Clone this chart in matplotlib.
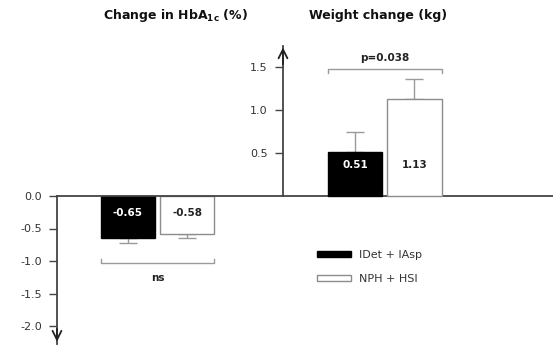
import numpy as np
import matplotlib.pyplot as plt
from matplotlib.patches import Patch

plt.rcParams['font.family'] = ['DejaVu Sans']
plt.rcParams['axes.unicode_minus'] = False
plt.rcParams['mathtext.fontset'] = 'dejavusans'

# data
treatments = ['IDet + IAsp', 'NPH + HSI']
hba1c = [-0.65, -0.58]
hba1c_err = [0.07, 0.06]
weight = [0.51, 1.13]
weight_err = [0.23, 0.23]
hba1c_ticks = [0.0, -0.5, -1.0, -1.5, -2.0]
weight_ticks = [0.5, 1.0, 1.5]
p_labels = ['ns', 'p=0.038']

bar_colors = ['black', 'white']
edge_colors = ['black', '#8c8c8c']
axis_col = '#444444'
err_col = '#9a9a9a'

fig = plt.figure(figsize=(5.53, 3.45), dpi=100)
ax1 = fig.add_axes([0, 0, 1, 1])
ax2 = ax1.twinx()
ax2.set_position([0, 0, 1, 1])

# 1 x-unit = distance between group centres
xlim = (-0.6923, 1.7385)
width = 0.2374
offs = np.array([-0.1297, 0.1297])
g0, g1 = 0.0, 1.0
xl1 = -0.4418   # left axis position
xl2 = 0.5516    # right axis position

ax1.set_xlim(xlim)
ax1.set_ylim(-149 / 65, 196 / 65)
ax2.set_ylim(-149 / 86, 196 / 86)

# bars
x0 = g0 + offs
x1 = g1 + offs
ax1.bar(x0, hba1c, width, color=bar_colors, edgecolor=edge_colors, linewidth=1, zorder=3)
ax1.errorbar(x0, hba1c, yerr=[hba1c_err, [0, 0]], fmt='none', ecolor=err_col,
             elinewidth=1, capsize=6.5, capthick=1, zorder=2)
ax2.bar(x1, weight, width, color=bar_colors, edgecolor=edge_colors, linewidth=1, zorder=3)
ax2.errorbar(x1, weight, yerr=[[0, 0], weight_err], fmt='none', ecolor=err_col,
             elinewidth=1, capsize=6.5, capthick=1, zorder=2)

# value labels
txt_cols = ['white', '#222222']
for x, v, c in zip(x0, hba1c, txt_cols):
    ax1.text(x, -0.26, f'{v:.2f}', ha='center', va='center', fontsize=7.5,
             fontweight='bold', color=c, zorder=4)
for x, v, c in zip(x1, weight, txt_cols):
    ax2.text(x, 0.36, f'{v:.2f}', ha='center', va='center', fontsize=7.5,
             fontweight='bold', color=c, zorder=4)

# axes styling
for ax in (ax1, ax2):
    for s in ['top', 'right', 'bottom']:
        ax.spines[s].set_visible(False)
    ax.spines['left'].set_visible(True)
    ax.spines['left'].set_color(axis_col)
    ax.spines['left'].set_linewidth(1.3)
    ax.tick_params(axis='y', direction='out', length=6, width=1, color=axis_col,
                   labelsize=8, labelcolor='#333333', pad=5)
    ax.set_xticks([])

ax1.spines['left'].set_position(('data', xl1))
ax1.spines['left'].set_bounds(-2.28, 0)
ax1.set_yticks(hba1c_ticks)
ax1.set_yticklabels([f'{t:.1f}' for t in hba1c_ticks])

ax2.yaxis.set_ticks_position('left')
ax2.yaxis.set_label_position('left')
ax2.spines['left'].set_position(('data', xl2))
ax2.spines['left'].set_bounds(0, 1.75)
ax2.set_yticks(weight_ticks)
ax2.set_yticklabels([f'{t:.1f}' for t in weight_ticks])

# arrows on axes ends
ax1.annotate('', xy=(xl1, -2.285), xytext=(xl1, -2.0),
             arrowprops=dict(arrowstyle='->', color='#222222', lw=1.3, mutation_scale=16))
ax2.annotate('', xy=(xl2, 1.76), xytext=(xl2, 1.5),
             arrowprops=dict(arrowstyle='->', color='#222222', lw=1.3, mutation_scale=16))

# zero line
ax1.plot([xl1, xlim[1]], [0, 0], color=axis_col, lw=1.3, zorder=5, clip_on=False)

# significance brackets
l0, r0 = x0[0] - width / 2, x0[1] + width / 2
ax1.plot([l0, l0, r0, r0], [-0.97, -1.03, -1.03, -0.97], color=err_col, lw=1)
ax1.text(g0, -1.26, p_labels[0], ha='center', va='center', fontsize=7.5,
         fontweight='bold', color='#222222')
l1, r1 = x1[0] - width / 2, x1[1] + width / 2
ax2.plot([l1, l1, r1, r1], [1.43, 1.477, 1.477, 1.43], color=err_col, lw=1)
ax2.text(g1, 1.61, p_labels[1], ha='center', va='center', fontsize=7.5,
         fontweight='bold', color='#222222')

# titles
fig.text(175 / 553, 1 - 16 / 345, r'Change in HbA$_{\mathbf{1c}}$ (%)', ha='center',
         va='center', fontsize=9, fontweight='bold', color='#111111')
fig.text(378 / 553, 1 - 16 / 345, 'Weight change (kg)', ha='center',
         va='center', fontsize=9, fontweight='bold', color='#111111')

# legend
handles = [Patch(facecolor=bar_colors[i], edgecolor=edge_colors[i], label=treatments[i])
           for i in range(2)]
ax2.legend(handles=handles, loc='upper left', bbox_to_anchor=(317 / 553, 1 - 250 / 345),
           frameon=False, fontsize=8, handlelength=3.1, handleheight=0.55,
           handletextpad=0.7, labelspacing=1.25, borderpad=0, borderaxespad=0,
           labelcolor='#333333')

fig.savefig('out.png', dpi=100)
